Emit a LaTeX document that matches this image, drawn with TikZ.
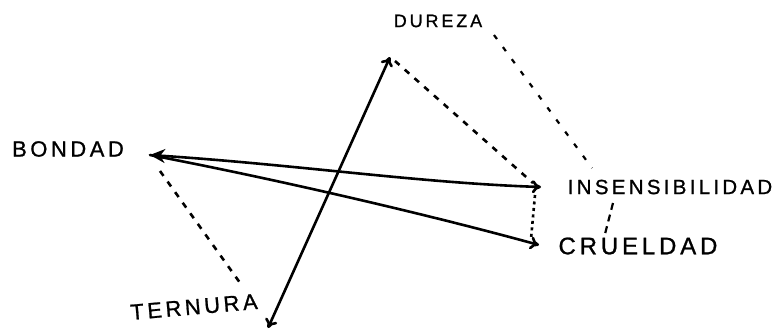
\documentclass[tikz,border=0pt]{standalone}
\usepackage{fontspec}
\setmainfont{Liberation Sans}
\usetikzlibrary{arrows.meta,calc}
\newfontfamily\hand[LetterSpace=16,FakeBold=1]{Liberation Sans}
\tikzset{
  lbl/.style={font=\hand, inner sep=0pt, anchor=center},
  solidarrow/.style={line width=2.6pt, line cap=round},
  dashedline/.style={line width=2.6pt, dash pattern=on 6pt off 7pt},
  dottedline/.style={line width=2.6pt, dash pattern=on 3pt off 3.5pt},
  sparseline/.style={line width=2.2pt, dash pattern=on 5pt off 10pt},
}
\begin{document}
\begin{tikzpicture}[x=1pt,y=-1pt]
\useasboundingbox (0,0) rectangle (777,333);
% labels
\node[lbl, font=\hand\fontsize{18}{18}\selectfont] (dureza) at (438,21) {DUREZA};
\node[lbl, font=\hand\fontsize{22}{22}\selectfont] (bondad) at (68,149) {BONDAD};
\node[lbl, font=\hand\fontsize{20.5}{20.5}\selectfont] (insens) at (670,187) {INSENSIBILIDAD};
\node[lbl, font=\hand\fontsize{24}{24}\selectfont] (cruel) at (638,246) {CRUELDAD};
\node[lbl, font=\hand\fontsize{22}{22}\selectfont, rotate=5] (ternura) at (194,307) {TERNURA};
% arrow tips
\coordinate (top) at (390,57);
\coordinate (bot) at (268,328);
\coordinate (bt) at (150,155);
\coordinate (it) at (541,187);
\coordinate (ct) at (539,245);
\coordinate (tt) at (243,287);
\coordinate (d1) at (494,35);
\coordinate (d2) at (592,168);
\coordinate (i1) at (613,203);
\coordinate (c1) at (605,234);
% solid arrows
\draw[solidarrow, {To[length=9pt,width=13pt]}-{To[length=9pt,width=13pt]}] (bot) -- (top);
\draw[solidarrow, {Stealth[length=15pt,width=14pt]}-{To[length=9pt,width=13pt]}] (bt) .. controls (300,165) and (420,183) .. (it);
\draw[solidarrow, -{To[length=9pt,width=13pt]}] (bt) .. controls (280,180) and (430,215) .. (ct);
% dashed connectors
\draw[dashedline] ($(top)+(5,4)$) -- ($(it)+(-8,-4)$);
\draw[dottedline] ($(it)+(-6,8)$) -- ($(ct)+(-8,-6)$);
\draw[dashedline] ($(bt)+(10,16)$) -- (tt);
\draw[sparseline] (d1) -- (d2);
\draw[line width=2.2pt, dash pattern=on 7pt off 5pt] (i1) -- (c1);
\end{tikzpicture}
\end{document}
